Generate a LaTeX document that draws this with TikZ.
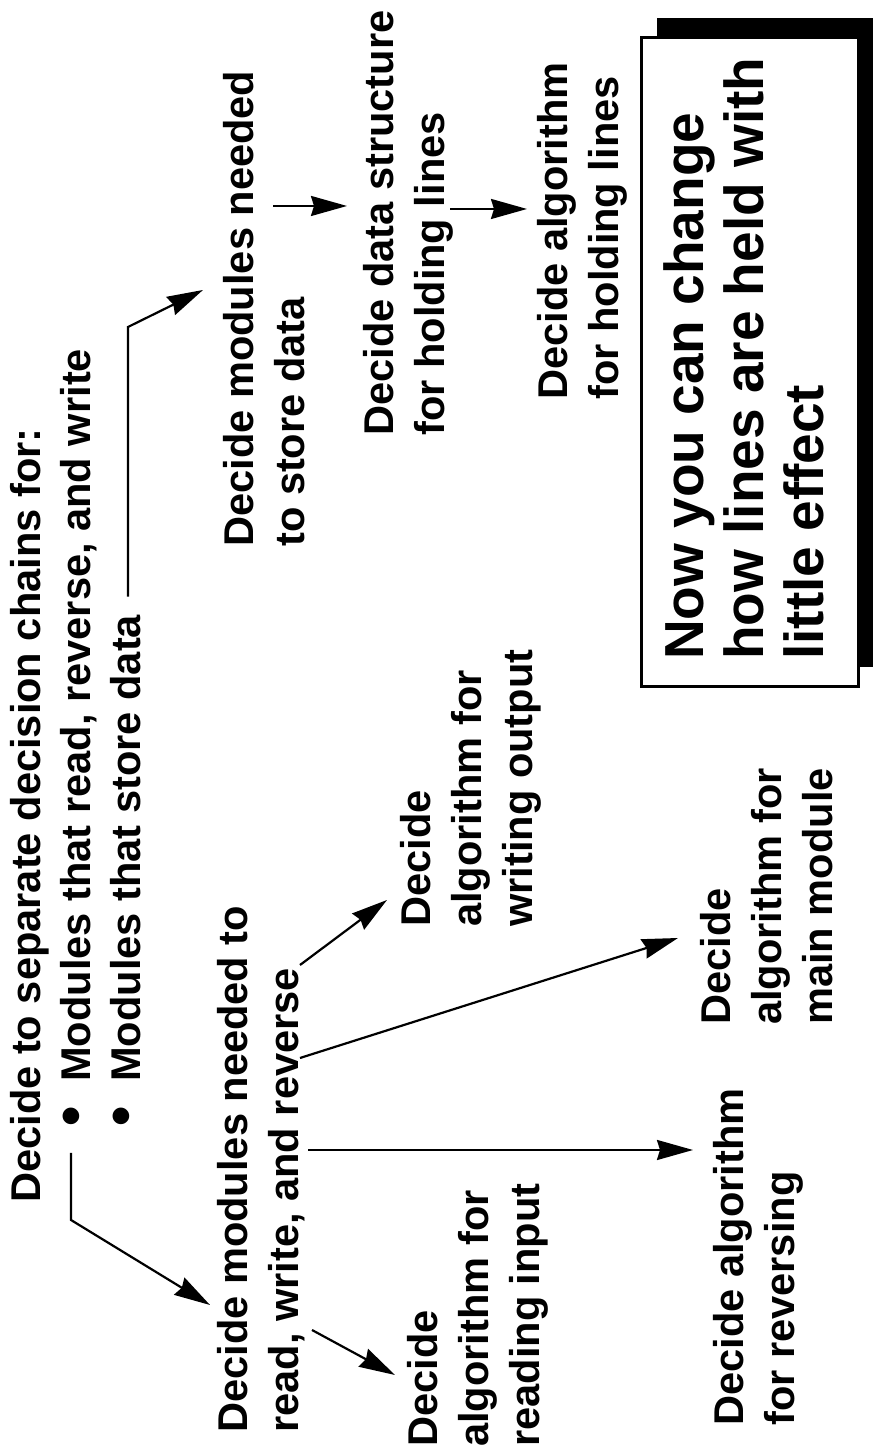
\documentclass[tikz,border=0pt]{standalone}
\usepackage{fontspec}
\setmainfont{Liberation Sans}
\usetikzlibrary{arrows.meta,calc}

\begin{document}
\begin{tikzpicture}[
  x=1pt, y=1pt,
  decision/.style={anchor=north west, align=left, inner sep=0pt,
    font=\bfseries\fontsize{41.6}{51}\selectfont},
  note/.style={anchor=north west, align=left, inner sep=0pt,
    font=\bfseries\fontsize{55}{60}\selectfont},
  arr/.style={line width=2.2pt, -{Stealth[length=36pt,width=20pt,inset=3pt]}}
]
\begin{scope}[rotate=90, transform shape]
\useasboundingbox (0,0) rectangle (1455,-873);

% top level decision
\node[decision] (chains) at (252,-10) {Decide to separate decision chains for:};
\node[decision] (readmods) at (328,-60) {\makebox[45pt][l]{\fontsize{58}{51}\selectfont\textbullet}Modules that read, reverse, and write};
\node[decision] (storemods) at (328,-110) {\makebox[45pt][l]{\fontsize{58}{51}\selectfont\textbullet}Modules that store data};

% read / write / reverse chain
\node[decision] (rwrnode) at (22,-217) {Decide modules needed to\\read, write, and reverse};
\node[decision] (inputnode) at (8,-407) {Decide\\algorithm for\\reading input};
\node[decision] (reversenode) at (29,-713) {Decide algorithm\\for reversing};
\node[decision] (mainnode) at (430,-700) {Decide\\algorithm for\\main module};
\node[decision] (outputnode) at (528,-400) {Decide\\algorithm for\\writing output};

% storage chain
\node[decision] (storenode) at (908,-223) {Decide modules needed\\to store data};
\node[decision] (structnode) at (1019,-363) {Decide data structure\\for holding lines};
\node[decision] (holdnode) at (1055,-537) {Decide algorithm\\for holding lines};

% result box with solid shadow
\fill (788,-657) rectangle (1437,-873);
\node[draw, line width=2.6pt, fill=white, anchor=north west, inner sep=0pt,
  minimum width=649pt, minimum height=217pt] (notebox) at (767,-640) {};
\node[note] (effect) at (795,-663) {Now you can change\\how lines are held with\\little effect};

% connectors
\coordinate (readbend) at (235,-71);
\coordinate (storebend) at (1128,-128);
\draw[arr] ($(readmods.north west)+(-26,-11)$) -- (readbend) -- ($(rwrnode.north west)+(128,7)$);
\draw[arr] ($(storemods.north east)+(18,-18)$) -- (storebend) -- ($(storenode.north west)+(257,20)$);
\draw[arr] ($(rwrnode.north west)+(103,-95)$) -- ($(inputnode.north west)+(72,12)$);
\draw[arr] ($(rwrnode.north west)+(283,-91)$) -- ($(reversenode.north west)+(276,20)$);
\draw[arr] ($(rwrnode.north west)+(375,-83)$) -- ($(mainnode.north west)+(87,22)$);
\draw[arr] ($(rwrnode.north west)+(468,-83)$) -- ($(outputnode.north west)+(27,13)$);
\draw[arr] ($(storenode.north west)+(341,-50)$) -- ($(structnode.north west)+(230,16)$);
\draw[arr] ($(structnode.north west)+(227,-87)$) -- ($(holdnode.north west)+(191,10)$);
\end{scope}
\end{tikzpicture}
\end{document}
